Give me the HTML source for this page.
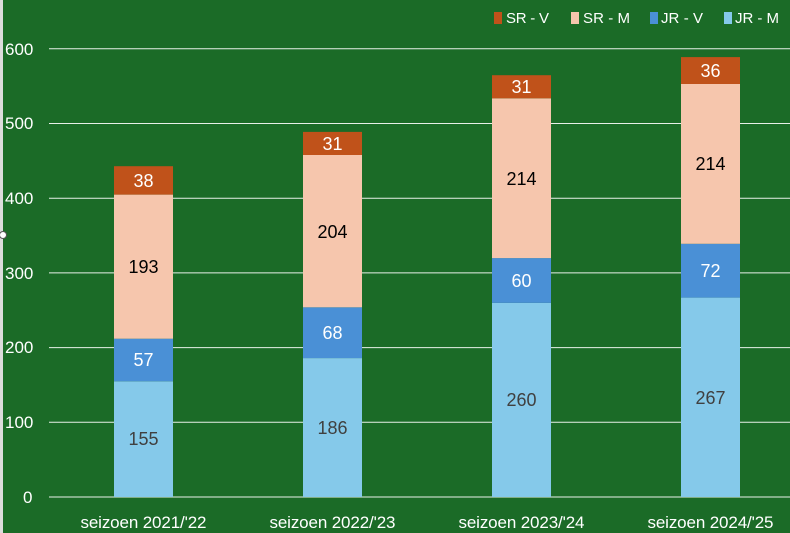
<!DOCTYPE html>
<html><head><meta charset="utf-8"><style>
html,body{margin:0;padding:0;background:#1b6b27;}
svg{display:block;font-family:"Liberation Sans",sans-serif;}
</style></head><body>
<svg width="790" height="533" viewBox="0 0 790 533">
<rect width="790" height="533" fill="#1b6b27"/>
<rect x="0" y="0" width="3" height="533" fill="#dcdcdc"/>
<g stroke="#ffffff" stroke-width="1" opacity="0.9">
<line x1="49" x2="790" y1="497" y2="497"/>
<line x1="49" x2="790" y1="422.3" y2="422.3"/>
<line x1="49" x2="790" y1="347.6" y2="347.6"/>
<line x1="49" x2="790" y1="272.9" y2="272.9"/>
<line x1="49" x2="790" y1="198.2" y2="198.2"/>
<line x1="49" x2="790" y1="123.5" y2="123.5"/>
<line x1="49" x2="790" y1="48.8" y2="48.8"/>
</g>
<circle cx="3" cy="235" r="3.5" fill="#fff" stroke="#555" stroke-width="1"/>
<g fill="#fff" font-size="17" text-anchor="start">
<text x="23" y="503">0</text>
<text x="5" y="428">100</text>
<text x="5" y="353">200</text>
<text x="5" y="279">300</text>
<text x="5" y="204">400</text>
<text x="5" y="129">500</text>
<text x="5" y="55">600</text>
</g>
<g>
<rect x="114" y="381.3" width="59" height="115.7" fill="#85c9ea"/>
<rect x="114" y="338.7" width="59" height="42.6" fill="#4a90d6"/>
<rect x="114" y="194.6" width="59" height="144.1" fill="#f6c6ad"/>
<rect x="114" y="166.2" width="59" height="28.4" fill="#c0521a"/>

<rect x="303" y="358.1" width="59" height="138.9" fill="#85c9ea"/>
<rect x="303" y="307.3" width="59" height="50.8" fill="#4a90d6"/>
<rect x="303" y="155.0" width="59" height="152.3" fill="#f6c6ad"/>
<rect x="303" y="131.9" width="59" height="23.1" fill="#c0521a"/>

<rect x="492" y="302.9" width="59" height="194.1" fill="#85c9ea"/>
<rect x="492" y="258.1" width="59" height="44.8" fill="#4a90d6"/>
<rect x="492" y="98.3" width="59" height="159.8" fill="#f6c6ad"/>
<rect x="492" y="75.2" width="59" height="23.1" fill="#c0521a"/>

<rect x="681" y="297.6" width="59" height="199.4" fill="#85c9ea"/>
<rect x="681" y="243.8" width="59" height="53.8" fill="#4a90d6"/>
<rect x="681" y="84.0" width="59" height="159.8" fill="#f6c6ad"/>
<rect x="681" y="57.1" width="59" height="26.9" fill="#c0521a"/>
</g>
<g font-size="18" text-anchor="middle">
<text x="143.5" y="445" fill="#404040">155</text>
<text x="143.5" y="366" fill="#fff">57</text>
<text x="143.5" y="273" fill="#000">193</text>
<text x="143.5" y="187" fill="#fff">38</text>

<text x="332.5" y="434" fill="#404040">186</text>
<text x="332.5" y="339" fill="#fff">68</text>
<text x="332.5" y="238" fill="#000">204</text>
<text x="332.5" y="150" fill="#fff">31</text>

<text x="521.5" y="406" fill="#404040">260</text>
<text x="521.5" y="287" fill="#fff">60</text>
<text x="521.5" y="185" fill="#000">214</text>
<text x="521.5" y="93" fill="#fff">31</text>

<text x="710.5" y="404" fill="#404040">267</text>
<text x="710.5" y="277" fill="#fff">72</text>
<text x="710.5" y="170" fill="#000">214</text>
<text x="710.5" y="77" fill="#fff">36</text>
</g>
<g font-size="17" fill="#fff" text-anchor="middle">
<text x="143.5" y="528" textLength="126">seizoen 2021/'22</text>
<text x="332.5" y="528" textLength="126">seizoen 2022/'23</text>
<text x="521.5" y="528" textLength="126">seizoen 2023/'24</text>
<text x="710.5" y="528" textLength="126">seizoen 2024/'25</text>
</g>
<g font-size="15" fill="#fff">
<rect x="494" y="12" width="8" height="12" fill="#c0521a"/>
<text x="506" y="23" textLength="43">SR - V</text>
<rect x="571" y="12" width="8" height="12" fill="#f6c6ad"/>
<text x="583" y="23" textLength="47">SR - M</text>
<rect x="650" y="12" width="8" height="12" fill="#4a90d6"/>
<text x="661" y="23" textLength="42">JR - V</text>
<rect x="724" y="12" width="8" height="12" fill="#85c9ea"/>
<text x="735" y="23" textLength="44">JR - M</text>
</g>
</svg>
</body></html>
